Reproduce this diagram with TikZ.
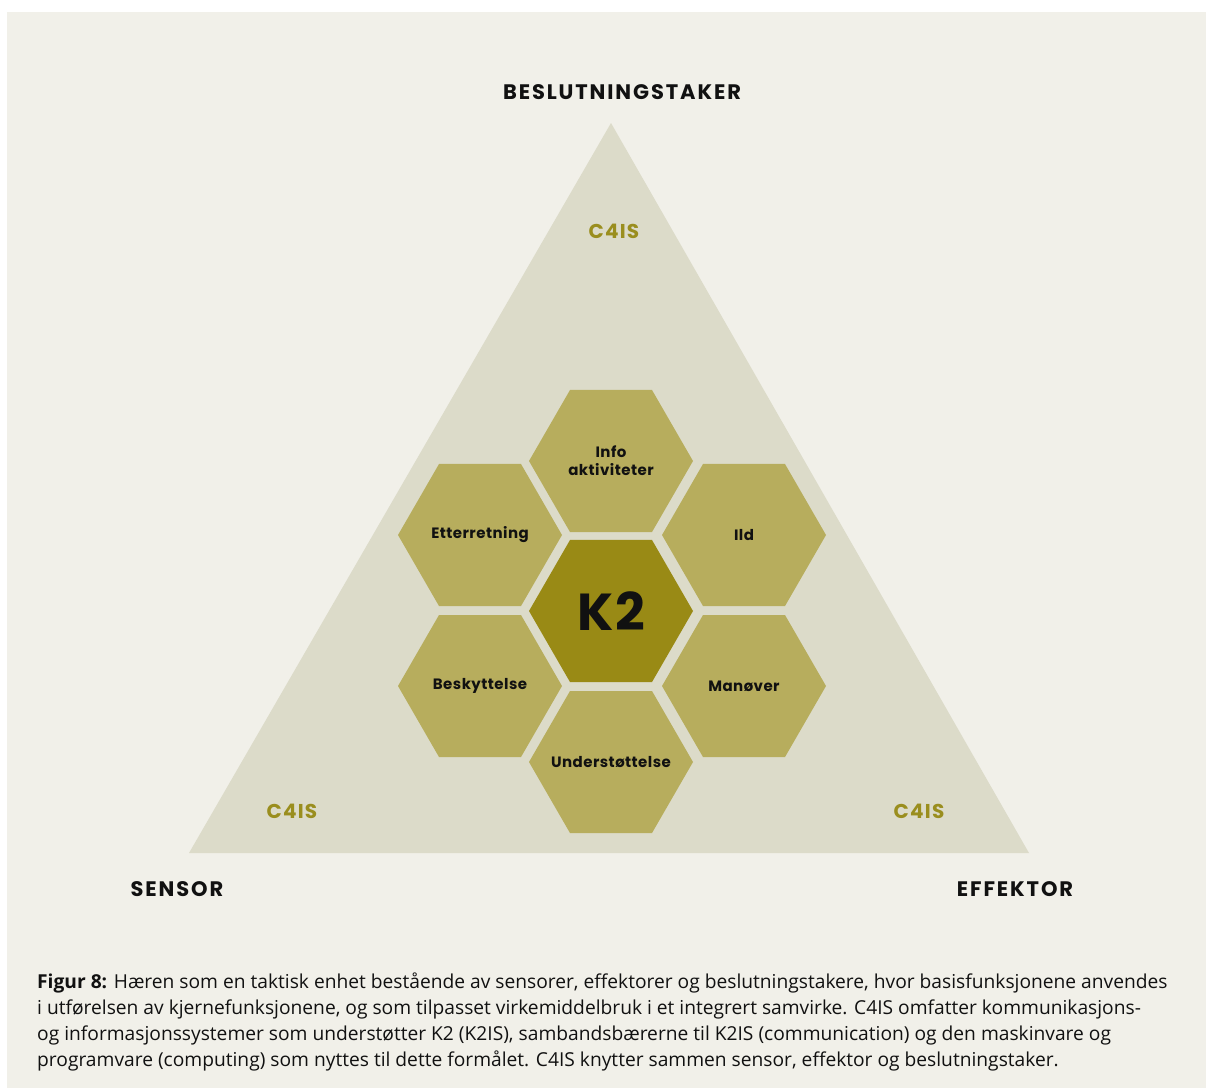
\documentclass[tikz,border=0pt]{standalone}
\usepackage{fontspec}
\setmainfont{Poppins}
\newfontfamily\capfont{Open Sans}
\newfontfamily\widefont[LetterSpace=9]{Poppins}
\newfontfamily\cfourfont[LetterSpace=6]{Poppins}
\newfontfamily\hexfont[LetterSpace=3]{Poppins}
\newfontfamily\kfont[LetterSpace=4]{Poppins}
\usetikzlibrary{shapes.geometric}
\definecolor{bgc}{HTML}{F1F0E9}
\definecolor{tric}{HTML}{DCDBC9}
\definecolor{hexc}{HTML}{B7AD5D}
\definecolor{corec}{HTML}{998A15}
\definecolor{c4c}{HTML}{9A8E1E}
\definecolor{ink}{HTML}{111111}
\begin{document}
\begin{tikzpicture}[x=1pt,y=-1pt,
  hexa/.style={regular polygon, regular polygon sides=6, minimum size=164pt, inner sep=0pt, outer sep=0pt,
    fill=hexc},
  corehex/.style={hexa, fill=corec},
  hexlabel/.style={text=ink, font=\hexfont\fontsize{15}{18}\selectfont\bfseries, align=center, inner sep=0pt},
  corelabel/.style={text=ink, font=\kfont\fontsize{52}{56}\selectfont\bfseries, inner sep=0pt},
  c4/.style={text=c4c, font=\cfourfont\fontsize{20}{22}\selectfont\bfseries, inner sep=0pt},
  corner/.style={text=ink, font=\widefont\fontsize{21}{24}\selectfont\bfseries, inner sep=0pt},
  capline/.style={anchor=base west, inner sep=0pt, text=ink, font=\capfont\fontsize{19.2}{21}\selectfont}]
\fill[white] (0,0) rectangle (1206,1088);
\fill[bgc] (7,12) rectangle (1206,1088);
\coordinate (apex) at (611,123);
\coordinate (bl) at (189,853);
\coordinate (br) at (1029,853);
\fill[tric] (apex) -- (bl) -- (br) -- cycle;

\node[corehex] (k2) at (611,611) {};
\node[hexa] (info) at (611,461) {};
\node[hexa] (ett) at (480,535) {};
\node[hexa] (ild) at (744,535) {};
\node[hexa] (besk) at (480,686) {};
\node[hexa] (man) at (744,686) {};
\node[hexa] (und) at (611,762) {};

\node[corelabel] (k2t) at (k2) {K2};
\node[hexlabel] (infot) at (611,461) {Info\\aktiviteter};
\node[hexlabel] (ettt) at (480,535) {Etterretning};
\node[hexlabel] (ildt) at (744,535) {Ild};
\node[hexlabel] (beskt) at (480,686) {Beskyttelse};
\node[hexlabel] (mant) at (744,686) {Manøver};
\node[hexlabel] (undt) at (611,762) {Understøttelse};

\node[c4] (c4top) at (614,231) {C4IS};
\node[c4] (c4l) at (292,811) {C4IS};
\node[c4] (c4r) at (919,811) {C4IS};

\node[corner] (besl) at (622,92) {BESLUTNINGSTAKER};
\node[corner] (sens) at (177,889) {SENSOR};
\node[corner] (eff) at (1015,889) {EFFEKTOR};

\node[capline] (cap1) at (37,988) {\textbf{Figur 8:} Hæren som en taktisk enhet bestående av sensorer, effektorer og beslutningstakere, hvor basisfunksjonene anvendes};
\node[capline] (cap2) at (37,1014) {i utførelsen av kjernefunksjonene, og som tilpasset virkemiddelbruk i et integrert samvirke. C4IS omfatter kommunikasjons-};
\node[capline] (cap3) at (37,1040) {og informasjonssystemer som understøtter K2 (K2IS), sambandsbærerne til K2IS (communication) og den maskinvare og};
\node[capline] (cap4) at (37,1066) {programvare (computing) som nyttes til dette formålet. C4IS knytter sammen sensor, effektor og beslutningstaker.};
\end{tikzpicture}
\end{document}
